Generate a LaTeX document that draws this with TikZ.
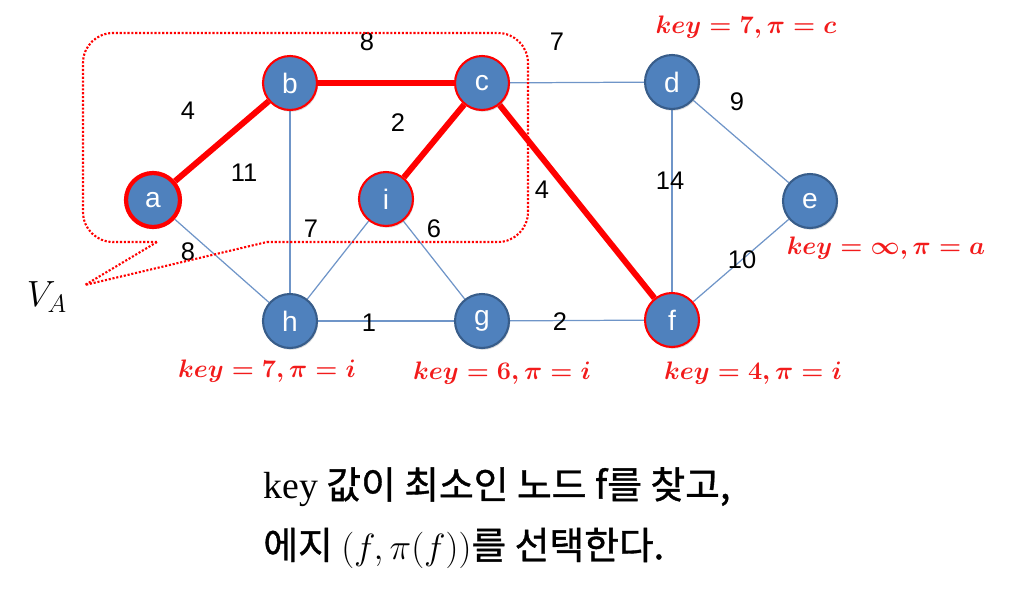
\documentclass[tikz,border=0pt]{standalone}
\usepackage{fontspec}
\setmainfont{Liberation Sans}
\newfontfamily\krfont[FakeBold=1]{Noto Sans CJK KR}
\newfontfamily\cambriafont{Liberation Serif}
\usetikzlibrary{shadows,backgrounds}
\definecolor{nodeblue}{HTML}{4F81BD}
\definecolor{nodeedge}{HTML}{385D8A}
\definecolor{edgeblue}{HTML}{6F95C8}
\definecolor{keyred}{HTML}{F21B1B}
\begin{document}
\begin{tikzpicture}[x=0.02cm,y=-0.02cm,
  vert/.style={circle, fill=nodeblue, draw=nodeedge, line width=1.2pt,
    minimum size=1.08cm, inner sep=0pt, text=white,
    font=\fontsize{16}{16}\selectfont,
    drop shadow={shadow xshift=0.6pt, shadow yshift=-1pt, opacity=0.3}},
  chosen/.style={vert, draw=red},
  rootv/.style={vert, draw=red, line width=2.4pt},
  tedge/.style={draw=edgeblue, line width=0.7pt},
  redge/.style={draw=red, line width=3.4pt},
  wlabel/.style={font=\fontsize{14.5}{14.5}\selectfont, inner sep=0pt},
  keylabel/.style={text=keyred, font=\fontsize{13.8}{13.8}\selectfont\boldmath, inner sep=0pt},
  callout/.style={draw=red, densely dotted, line width=1.2pt},
  bottomtext/.style={anchor=west, inner sep=0pt, font=\krfont\fontsize{21.5}{21.5}\selectfont}
]
\useasboundingbox (0,0) rectangle (1015,599);

% vertices
\node[rootv]  (a) at (153,200) {a};
\node[chosen] (b) at (290,83)  {b};
\node[chosen] (c) at (482,83)  {c};
\node[vert]   (d) at (672,82)  {d};
\node[vert]   (e) at (810,201) {e};
\node[chosen] (i) at (386,199) {i};
\node[vert]   (h) at (290,321) {h};
\node[vert]   (g) at (482,321) {g};
\node[chosen] (f) at (672,320) {f};

% edges
\begin{scope}[on background layer]
  \draw[tedge] (a) -- (h);
  \draw[tedge] (b) -- (h);
  \draw[tedge] (i) -- (h);
  \draw[tedge] (i) -- (g);
  \draw[tedge] (h) -- (g);
  \draw[tedge] (g) -- (f);
  \draw[tedge] (c) -- (d);
  \draw[tedge] (d) -- (e);
  \draw[tedge] (d) -- (f);
  \draw[tedge] (e) -- (f);
  \draw[redge] (a) -- (b);
  \draw[redge] (b) -- (c);
  \draw[redge] (c) -- (i);
  \draw[redge] (c) -- (f);
\end{scope}

% edge weights
\node[wlabel] (w1) at (367,42)  {8};
\node[wlabel] (w2) at (557,42)  {7};
\node[wlabel] (w3) at (188,111) {4};
\node[wlabel] (w4) at (398,123) {2};
\node[wlabel] (w5) at (244,173) {11};
\node[wlabel] (w6) at (311,229) {7};
\node[wlabel] (w7) at (434,229) {6};
\node[wlabel] (w8) at (188,252) {8};
\node[wlabel] (w9) at (542,190) {4};
\node[wlabel] (w10) at (737,102) {9};
\node[wlabel] (w11) at (670,181) {14};
\node[wlabel] (w12) at (742,260) {10};
\node[wlabel] (w13) at (369,323) {1};
\node[wlabel] (w14) at (560,322) {2};

% key labels
\node[keylabel] (kd) at (746,27)  {$key=7,\pi=c$};
\node[keylabel] (ke) at (886,248) {$key=\infty,\pi=a$};
\node[keylabel] (kh) at (267,371) {$key=7,\pi=i$};
\node[keylabel] (kg) at (502,373) {$key=6,\pi=i$};
\node[keylabel] (kf) at (753,373) {$key=4,\pi=i$};

% callout V_A
\coordinate (cr) at (267,242);
\coordinate (cl) at (157,242);
\coordinate (tip) at (85,285);
\draw[callout, rounded corners=0.6cm] (cr) -- (528,242) -- (528,33) -- (83,33) -- (83,242) -- (cl);
\draw[callout] (cl) -- (tip) -- (cr);
\node[font=\fontsize{20}{20}\selectfont, inner sep=0pt] (va) at (47,297) {$V_A$};

% bottom text
\node[bottomtext] (t1) at (263,487) {{\cambriafont key} 값이 최소인 노드 f를 찾고,};
\node[bottomtext] (t2) at (263,548) {에지 $(f,\pi(f))$를 선택한다.};
\end{tikzpicture}
\end{document}
